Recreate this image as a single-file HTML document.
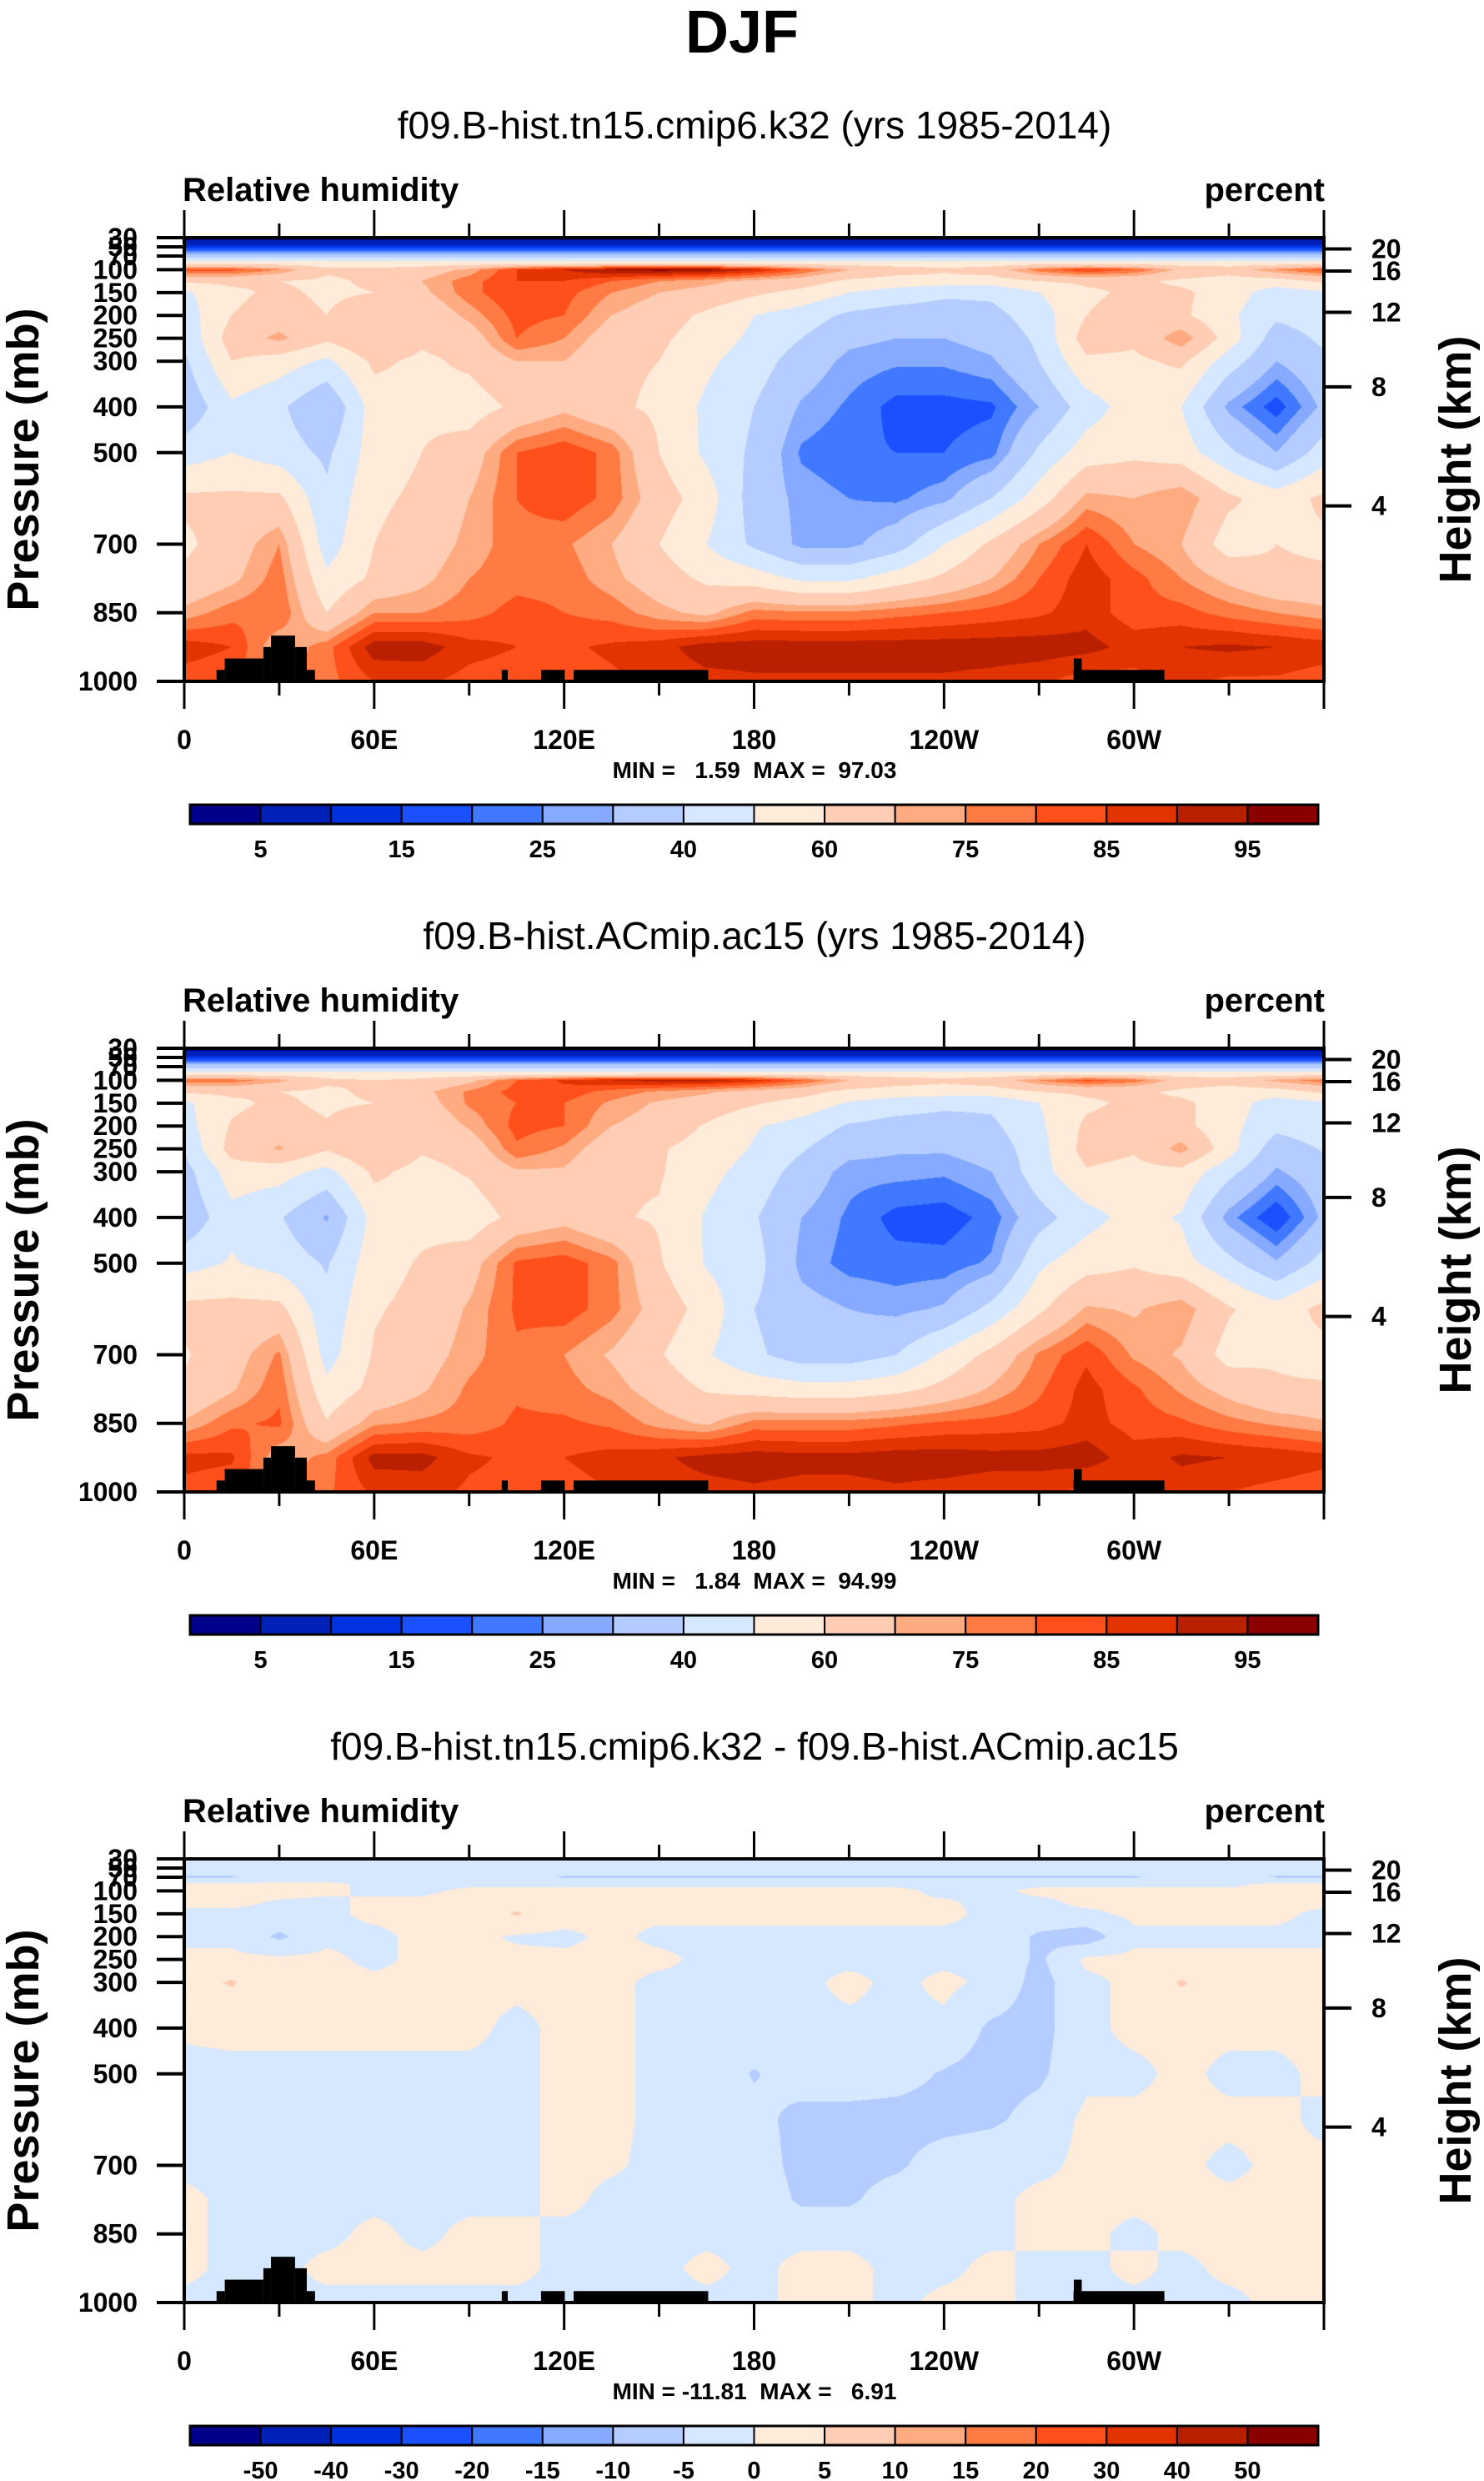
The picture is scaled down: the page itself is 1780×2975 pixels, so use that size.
<!DOCTYPE html>
<html><head><meta charset="utf-8">
<style>
html,body{margin:0;padding:0;background:#fff;}
#wrap{position:relative;width:1780px;height:2975px;overflow:hidden;background:#fff;}
canvas{position:absolute;}
svg{position:absolute;left:0;top:0;}
text{font-family:"Liberation Sans",Arial,sans-serif;fill:#000;}
.pre{white-space:pre;}
</style></head>
<body>
<div id="wrap">
<canvas id="c0"></canvas>
<canvas id="c1"></canvas>
<canvas id="c2"></canvas>
<svg id="svg" width="1780" height="2975" xmlns="http://www.w3.org/2000/svg">
<text x="890" y="63" text-anchor="middle" font-size="72" font-weight="bold">DJF</text>
</svg>
</div>
<script>
const lons = [0,15,30,45,60,75,90,105,120,135,150,165,180,195,210,225,240,255,270,285,300,315,330,345,360];
const plevs = [30,50,70,85,100,125,150,200,250,300,400,500,600,700,775,850,925,1000];
const rhLevels = [5,10,15,20,25,30,40,50,60,70,75,80,85,90,95];
const diffLevels = [-50,-40,-30,-20,-15,-10,-5,0,5,10,15,20,30,40,50];
const rhLabels = ['5','','15','','25','','40','','60','','75','','85','','95'];
const diffLabels = ['-50','-40','-30','-20','-15','-10','-5','0','5','10','15','20','30','40','50'];
const pTicks = [30,50,70,100,150,200,250,300,400,500,700,850,1000];
const hTicks = [20,16,12,8,4];
const xTickLons = [0,30,60,90,120,150,180,210,240,270,300,330,360];
const xTickLabels = {0:'0',60:'60E',120:'120E',180:'180',240:'120W',300:'60W'};
const subtitles = ['f09.B-hist.tn15.cmip6.k32 (yrs 1985-2014)','f09.B-hist.ACmip.ac15 (yrs 1985-2014)','f09.B-hist.tn15.cmip6.k32 - f09.B-hist.ACmip.ac15'];
const minmax = ['MIN =   1.59  MAX =  97.03','MIN =   1.84  MAX =  94.99','MIN = -11.81  MAX =   6.91'];
const topo = [[10.2,12.8,975],[12.8,25,950],[25,27.4,925],[27.4,35,900],[35,38.7,925],[38.7,41.3,975],[100.3,102.2,975],[112.7,120.2,975],[123,165.5,975],[281,283.5,950],[280.9,309.6,975]];
const colors = ['#00008a','#0020b8','#0032e0','#1a50ff','#4078ff','#85aaff','#b4ccff','#d6e8ff','#ffebda','#ffcdb4','#ffab82','#ff7b43','#ff501c','#e33300','#b82000','#8a0000'];

const p1 = [
[2,2,2,2,2,2,2,2,2,2,2,2,2,2,2,2,2,2,2,2,2,2,2,2,2],
[12,12,12,12,12,12,12,12,12,12,12,12,12,12,12,12,12,12,12,12,12,12,12,12,12],
[35,35,35,35,35,35,35,35,35,35,35,35,35,35,35,35,35,35,35,35,35,35,35,35,35],
[54,54,54,54,54,54,54,54,54,54,54,54,54,54,54,54,54,54,54,54,54,54,54,54,54],
[82,82,75,62,62,65,72,85,90,95,97,96,90,80,70,65,62,65,78,85,80,68,65,75,82],
[62,62,60,58,62,70,78,85,85,80,75,72,68,65,58,55,55,55,60,62,62,58,55,55,62],
[48,58,62,58,60,68,78,85,82,75,70,67,62,57,50,46,42,42,50,58,62,62,55,45,48],
[45,60,65,60,68,62,72,82,80,70,65,58,50,45,38,35,35,37,45,60,65,62,52,42,45],
[42,65,72,62,70,62,65,80,75,65,62,55,48,40,32,30,30,33,42,65,62,75,55,35,42],
[38,60,55,48,62,58,62,70,70,62,60,52,45,35,28,26,26,29,40,58,58,62,45,30,38],
[32,48,42,30,55,58,55,62,68,62,58,48,40,29,24,18,18,19,30,45,55,50,28,17,32],
[45,50,45,38,55,60,65,80,84,78,60,48,38,24,21,20,20,23,42,55,58,55,42,30,45],
[62,62,62,42,58,62,70,80,84,78,65,55,35,28,25,24,28,40,55,72,70,75,62,55,62],
[58,65,75,45,60,65,72,78,76,70,60,50,38,28,28,35,50,62,75,85,75,70,55,60,58],
[62,68,78,52,62,68,75,78,78,72,65,58,55,48,48,55,62,70,80,88,82,75,68,62,62],
[72,78,80,60,75,75,78,82,80,78,72,68,77,76,76,78,80,82,84,88,82,82,78,75,72],
[88,85,70,78,93,93,87,85,84,86,88,93,93,93,93,93,93,93,93,92,88,90,91,90,88],
[82,80,75,78,85,86,83,82,82,84,86,88,89,89,89,89,89,88,86,82,83,86,84,84,82]];

const p2 = [
[2,2,2,2,2,2,2,2,2,2,2,2,2,2,2,2,2,2,2,2,2,2,2,2,2],
[12,12,12,12,12,12,12,12,12,12,12,12,12,12,12,12,12,12,12,12,12,12,12,12,12],
[36,36,36,36,36,36,36,36,36,36,36,36,36,36,36,36,36,36,36,36,36,36,36,36,36],
[54,54,54,54,54,54,54,54,54,54,54,54,54,54,54,54,54,54,54,54,54,54,54,54,54],
[78,78,72,62,60,62,68,80,86,90,92,92,88,80,70,65,62,65,75,82,78,66,64,72,78],
[62,62,60,58,62,68,76,82,83,78,74,71,67,64,57,55,55,55,60,62,62,58,55,55,62],
[48,58,62,58,60,66,76,80,80,74,69,66,61,56,49,45,42,42,50,58,62,62,55,45,48],
[46,61,65,61,69,62,71,82,80,70,66,59,51,46,39,36,36,38,48,62,66,63,53,43,46],
[41,64,71,61,70,61,64,79,74,64,61,56,49,41,33,31,31,34,46,64,61,73,54,34,41],
[36,55,54,47,62,57,61,69,69,61,61,53,46,36,27,27,26,30,46,59,57,57,43,29,36],
[32,47,41,29,54,57,54,63,67,61,59,49,41,30,24,18,17,22,36,46,54,49,27,15,32],
[46,51,46,39,56,61,66,81,83,77,61,49,44,28,23,22,22,26,48,56,59,54,43,31,44],
[63,63,63,43,59,63,71,81,83,77,66,56,40,33,30,28,31,43,58,71,69,74,61,54,63],
[59,66,76,46,61,66,73,79,75,69,61,51,42,35,35,40,52,63,76,84,74,69,56,59,57],
[61,69,79,53,63,69,76,79,77,73,66,59,56,54,54,57,63,71,79,87,81,74,67,61,61],
[71,79,81,61,74,76,77,81,81,79,73,69,77,77,77,79,81,82,83,87,83,81,77,74,71],
[87,86,71,77,92,92,86,84,85,87,89,92,93,92,92,93,93,92,92,93,87,91,90,89,87],
[83,81,76,79,86,87,84,83,83,85,87,88,89,88,88,89,88,87,87,83,84,87,85,83,81]];

const p3 = [
[-2,-2,-2,-2,-2,-2,-2,-2,-2,-2,-2,-2,-2,-2,-2,-2,-2,-2,-2,-2,-2,-2,-2,-2,-2],
[-2,-2,-2,-2,-2,-2,-2,-2,-2,-2,-2,-2,-2,-2,-2,-2,-2,-2,-2,-2,-2,-2,-2,-2,-2],
[-5.5,-5.5,-3,-3,-3,-3,-3,-3,-5.5,-5.5,-5.5,-5.5,-5.5,-5.5,-5.5,-5.5,-5.5,-5.5,-5.5,-5.5,-5.5,-3,-3,-5.5,-5.5],
[1,1,1,1,-1,-1,-1,-1,-1,-1,-1,-1,-1,-1,-1,-1,-1,-1,-1,-1,-1,-1,-1,1,1],
[1.5,2,1.5,1,-1,-1,1,1,1,1,1,1,1,1,1,1,-1,-1,1,1,1,1,1,1,1.5],
[1,1,-0.5,-1,1,1,3,3,2,1,1,1,1,1,1,0.5,0.5,-1,-1,1,1,1,1,1,1],
[-1,-1,-1,-1,1,1,2,5.5,2,1,1,1,1,1,1,1,1,-1,-1,-1,1,1,1,1,-1],
[-1,-1,-6,-1,-1,1,1,-0.5,-1,1,-1,-1,-1,-1,-1,-1,-1,-1,-6,-8,-1,-1,-1,-1,-1],
[1,1,1,1,-1,1,1,1,1,1,1,-1,-1,-1,-1,-1,-1,-1,-6,1,1,1,1,1,1],
[3,5.5,1,1,1,1,1,1,1,1,-1,-1,-1,-1,1,-1,1,-1,-7,-1,1,5.5,2,1,1],
[0.5,1,1,1,1,1,1,-1,1,1,-1,-1,-1,-1,-1,-1,-1,-6,-7,-1,1,1,1,1,1],
[-1,-1,-1,-1,-1,-1,-1,-1,1,1,-1,-1,-5.5,-2,-2,-3,-5.5,-7,-6,-1,-1,1,-1,-1,1],
[-1,-1,-1,-1,-1,-1,-1,-1,1,1,-1,-1,-3,-7,-7,-7,-7,-6,-3,1,1,1,1,1,-1],
[-1,-1,-1,-1,-1,-1,-1,-1,1,0.5,-1,-1,-2,-7,-7,-6,-2,-1,-1,1,1,1,-1,1,1],
[1,-1,-1,-1,-1,-1,-1,-1,1,-1,-1,-1,-1,-6,-6,-2,-1,-1,1,1,1,1,1,1,1],
[1,-1,-1,-1,1,-1,1,1,-1,-1,-1,-1,-1,-1,-1,-1,-1,-1,1,1,-1,1,1,1,1],
[1,-1,-1,1,1,1,1,1,-1,-1,-1,1,-1,1,1,-1,-1,1,-1,-1,1,-1,1,1,1],
[-1,-1,-1,-1,-1,-1,-1,-1,-1,-1,-1,-1,-1,1,1,-1,1,1,-1,-1,-1,-1,-1,1,1]];

const L = 221, W = 1367, H = 532;
const tops = [285, 1257, 2229];
const svg = document.getElementById('svg');
const NS = 'http://www.w3.org/2000/svg';
function mk(tag, attrs, txt) {
  const e = document.createElementNS(NS, tag);
  for (const k in attrs) e.setAttribute(k, attrs[k]);
  if (txt !== undefined) e.textContent = txt;
  svg.appendChild(e);
  return e;
}
function xOf(lon) { return L + lon / 360 * W; }
function yOf(T, p) { return T + (p - 30) / 970 * H; }
function yOfH(T, h) {
  const p = 1013.25 * Math.pow(1 - 0.0065 * h * 1000 / 288.15, 5.255);
  const pp = h > 11 ? 226.3 * Math.exp(-(h - 11) / 6.34) : p;
  return yOf(T, pp);
}
function interp(data, lon, p) {
  let j = Math.min(Math.floor(lon / 15), lons.length - 2);
  const fx = (lon - lons[j]) / 15;
  let k = 0;
  while (k < plevs.length - 2 && p > plevs[k + 1]) k++;
  const fy = Math.max(0, Math.min(1, (p - plevs[k]) / (plevs[k + 1] - plevs[k])));
  const a = data[k][j] * (1 - fx) + data[k][j + 1] * fx;
  const b = data[k + 1][j] * (1 - fx) + data[k + 1][j + 1] * fx;
  return a * (1 - fy) + b * fy;
}
function hexRGB(h) { return [parseInt(h.substr(1,2),16), parseInt(h.substr(3,2),16), parseInt(h.substr(5,2),16)]; }
const rgb = colors.map(hexRGB);

function drawField(idx, data, levels) {
  const T = tops[idx];
  const cv = document.getElementById('c' + idx);
  cv.width = W; cv.height = H;
  cv.style.left = L + 'px'; cv.style.top = T + 'px';
  const ctx = cv.getContext('2d');
  const img = ctx.createImageData(W, H);
  for (let r = 0; r < H; r++) {
    const p = 30 + (r + 0.5) / H * 970;
    for (let c = 0; c < W; c++) {
      const lon = (c + 0.5) / W * 360;
      const v = interp(data, lon, p);
      let cls = 0;
      while (cls < levels.length && v >= levels[cls]) cls++;
      const o = (r * W + c) * 4;
      const col = rgb[cls];
      img.data[o] = col[0]; img.data[o+1] = col[1]; img.data[o+2] = col[2]; img.data[o+3] = 255;
    }
  }
  ctx.putImageData(img, 0, 0);
}

function drawPanel(idx, data, levels, labels) {
  const T = tops[idx];
  drawField(idx, data, levels);
  const st = mk('text', {x: 905, y: T - 119, 'text-anchor': 'middle', 'font-size': 46}, subtitles[idx]);
  
  
  const lt = mk('text', {x: 219, y: T - 44, 'font-size': 40, 'font-weight': 'bold'}, 'Relative humidity');
  
  
  const ut = mk('text', {x: 1589, y: T - 44, 'font-size': 40, 'font-weight': 'bold', 'text-anchor': 'end'}, 'percent');
  
  
  topo.forEach(function (m) {
    const r = mk('rect', {x: xOf(m[0]), y: yOf(T, m[2]), width: xOf(m[1]) - xOf(m[0]), height: T + H - yOf(T, m[2]), fill: '#000'});
    
    
  });
  const fr = mk('rect', {x: L, y: T, width: W, height: H, fill: 'none', stroke: '#000', 'stroke-width': 4});
  
  
  xTickLons.forEach(function (lon) {
    const major = lon % 60 === 0;
    const len = major ? 33 : 17;
    const x = xOf(lon);
    const t1 = mk('line', {x1: x, x2: x, y1: T, y2: T - len, stroke: '#000', 'stroke-width': 3});
    
    
    const t2 = mk('line', {x1: x, x2: x, y1: T + H, y2: T + H + len, stroke: '#000', 'stroke-width': 3});
    
    
    if (xTickLabels[lon] !== undefined) {
      const tl = mk('text', {x: x, y: T + 613, 'text-anchor': 'middle', 'font-size': 32, 'font-weight': 'bold'}, xTickLabels[lon]);
      
      
    }
  });
  pTicks.forEach(function (p) {
    const y = yOf(T, p);
    const tk = mk('line', {x1: 188, x2: L, y1: y, y2: y, stroke: '#000', 'stroke-width': 4});
    
    
    const tl = mk('text', {x: 165, y: y + 11, 'text-anchor': 'end', 'font-size': 32, 'font-weight': 'bold'}, String(p));
    
    
  });
  hTicks.forEach(function (h) {
    const y = yOfH(T, h);
    const tk = mk('line', {x1: L + W, x2: L + W + 33, y1: y, y2: y, stroke: '#000', 'stroke-width': 4});
    
    
    const tl = mk('text', {x: 1645, y: y + 11, 'font-size': 32, 'font-weight': 'bold'}, String(h));
    
    
  });
  const yt = mk('text', {x: 0, y: 0, transform: 'translate(46,' + (T + 266) + ') rotate(-90)', 'text-anchor': 'middle', 'font-size': 54, 'font-weight': 'bold'}, 'Pressure (mb)');
  
  
  const ht = mk('text', {x: 0, y: 0, transform: 'translate(1764,' + (T + 266) + ') rotate(-90)', 'text-anchor': 'middle', 'font-size': 54, 'font-weight': 'bold'}, 'Height (km)');
  
  
  const mm = mk('text', {x: 905, y: T + 648, 'text-anchor': 'middle', 'font-size': 28, 'font-weight': 'bold', 'class': 'pre'}, minmax[idx]);
  
  
  const cbL = 228, cbW = 1353, cbT = T + 680, cbH = 23, n = colors.length;
  const bw = cbW / n;
  colors.forEach(function (c, i) {
    const b = mk('rect', {x: cbL + i * bw, y: cbT, width: bw, height: cbH, fill: c, stroke: '#000', 'stroke-width': 2});
    
    
  });
  const cbf = mk('rect', {x: cbL, y: cbT, width: cbW, height: cbH, fill: 'none', stroke: '#000', 'stroke-width': 3});
  
  
  labels.forEach(function (lab, i) {
    if (lab === '') return;
    const tl = mk('text', {x: cbL + (i + 1) * bw, y: T + 743, 'text-anchor': 'middle', 'font-size': 29, 'font-weight': 'bold'}, lab);
    
    
  });
}
drawPanel(0, p1, rhLevels, rhLabels);
drawPanel(1, p2, rhLevels, rhLabels);
drawPanel(2, p3, diffLevels, diffLabels);
</script>
</body></html>
